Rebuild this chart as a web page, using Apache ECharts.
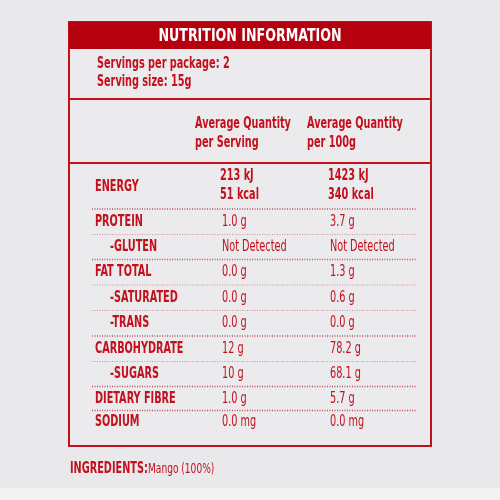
<!DOCTYPE html>
<html><head><meta charset="utf-8">
<script src="https://cdn.jsdelivr.net/npm/echarts@6/dist/echarts.min.js"></script>
<style>html,body{margin:0;padding:0;background:#e9e9eb}#c{width:500px;height:500px}</style>
</head><body><div id="c"></div>
<script>
const title = 'NUTRITION INFORMATION';
const servingLines = ['Servings per package: 2', 'Serving size: 15g'];
const colHeaders = [['Average Quantity', 'per Serving'], ['Average Quantity', 'per 100g']];
const nutrients = ['PROTEIN', '-GLUTEN', 'FAT TOTAL', '-SATURATED', '-TRANS', 'CARBOHYDRATE', '-SUGARS', 'DIETARY FIBRE', 'SODIUM'];
const perServing = ['1.0 g', 'Not Detected', '0.0 g', '0.0 g', '0.0 g', '12 g', '10 g', '1.0 g', '0.0 mg'];
const per100g = ['3.7 g', 'Not Detected', '1.3 g', '0.6 g', '0.0 g', '78.2 g', '68.1 g', '5.7 g', '0.0 mg'];
const energy = ['ENERGY', ['213 kJ', '51 kcal'], ['1423 kJ', '340 kcal']];
const ingredients = ['INGREDIENTS:', 'Mango (100%)'];

const RED = '#c3101c', FONT = '"DejaVu Sans Condensed","Liberation Sans Narrow",sans-serif';
const g = [];
function t(x, y, s, opt, sx) {
  g.push({type: 'text', x, y, scaleX: sx || 0.72, style: Object.assign({text: s, x: 0, y: 0, fill: RED, font: 'bold 15px ' + FONT, textVerticalAlign: 'middle'}, opt || {})});
}
function line(y, x1, x2, dash, w, c) {
  g.push({type: 'line', shape: {x1, y1: y, x2, y2: y}, style: {stroke: c || RED, lineWidth: w || 1, lineDash: dash ? [1, 1.5] : null}});
}
g.push({type: 'rect', shape: {x: 0, y: 488, width: 500, height: 12}, style: {fill: '#f2f2f3'}});
g.push({type: 'rect', shape: {x: 69, y: 22, width: 362, height: 424}, style: {fill: '#ebebed', stroke: RED, lineWidth: 2}});
g.push({type: 'rect', shape: {x: 69, y: 22, width: 362, height: 27}, style: {fill: '#b5000f'}});
t(250, 36, title, {fill: '#fff', font: 'bold 18px ' + FONT, textAlign: 'center'}, 0.78);
servingLines.forEach((s, i) => t(97, 64 + i * 18, s));
line(99, 70, 430, false, 2);
colHeaders.forEach((h, c) => h.forEach((s, i) => t(c ? 307 : 195, 124 + i * 19, s)));
line(163, 70, 430, false, 2);
t(95, 187, energy[0]);
energy[1].forEach((s, i) => t(220, 176 + i * 19, s));
energy[2].forEach((s, i) => t(328, 176 + i * 19, s));
const rowY = [222, 247, 272, 298, 323, 349, 374, 399, 422];
const groupEnd = [false, true, false, false, true, false, true, true];
line(209, 92, 416, true, 1.5, '#b8505a');
nutrients.forEach((n, i) => {
  t(n[0] === '-' ? 110 : 95, rowY[i], n);
  t(222, rowY[i], perServing[i], {font: '15px ' + FONT});
  t(330, rowY[i], per100g[i], {font: '15px ' + FONT});
  if (i < nutrients.length - 1) {
    const y = (rowY[i] + rowY[i + 1]) / 2;
    line(y, 92, 416, true, groupEnd[i] ? 1.5 : 1, groupEnd[i] ? '#b8505a' : '#d09098');
  }
});
t(70, 469, ingredients[0]);
t(148, 469, ingredients[1], {font: '14px ' + FONT});
const chart = echarts.init(document.getElementById('c'));
chart.setOption({backgroundColor: '#e9e9eb', graphic: g});
</script></body></html>
